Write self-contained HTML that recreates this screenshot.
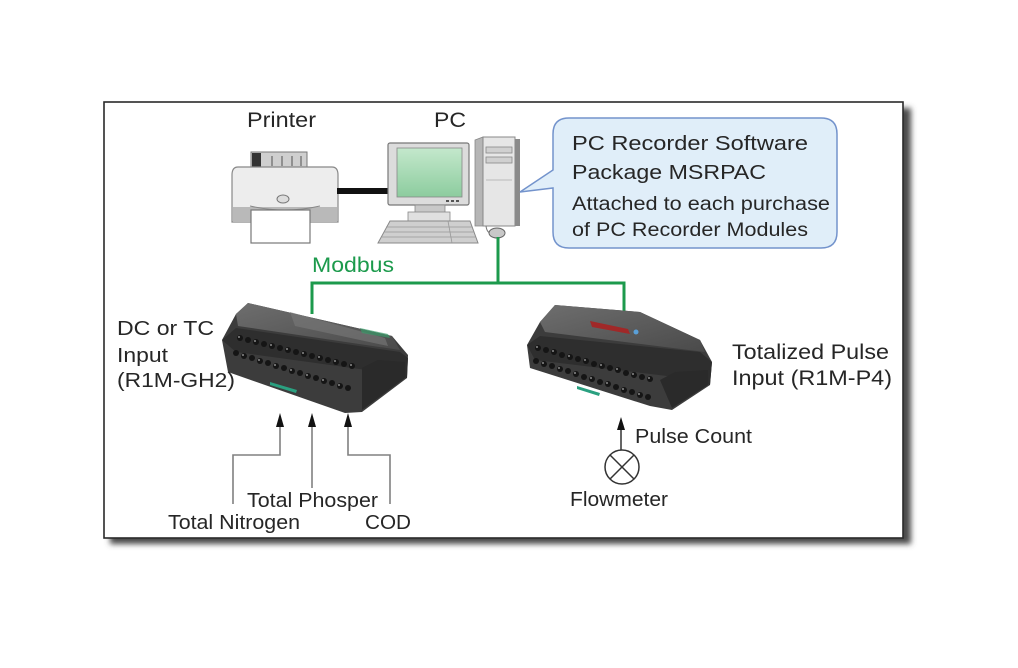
<!DOCTYPE html>
<html><head><meta charset="utf-8"><style>
html,body{margin:0;padding:0;background:#fff;}
svg{display:block;}
text{font-family:"Liberation Sans",Arial,sans-serif;fill:#262626;}
</style></head><body>
<svg width="1018" height="668" viewBox="0 0 1018 668" xmlns="http://www.w3.org/2000/svg">
<defs>
<filter id="sh" x="-10%" y="-10%" width="120%" height="130%"><feGaussianBlur stdDeviation="3"/></filter>
<linearGradient id="scr" x1="0" y1="0" x2="0" y2="1"><stop offset="0" stop-color="#c4e8cc"/><stop offset="1" stop-color="#8ccc9e"/></linearGradient>
<linearGradient id="mtop" x1="0" y1="0" x2="1" y2="1"><stop offset="0" stop-color="#6e6e6e"/><stop offset="1" stop-color="#4a4a4a"/></linearGradient>
</defs>
<rect width="1018" height="668" fill="#fff"/>
<!-- frame shadow -->
<rect x="110" y="108" width="801" height="436" fill="#4a4a4a" filter="url(#sh)"/>
<rect x="104" y="102" width="799" height="436" fill="#fff" stroke="#2a2a2a" stroke-width="1.6"/>

<!-- Printer -->
<rect x="251" y="152" width="56" height="18" fill="#cfcfcf" stroke="#777" stroke-width="1"/>
<rect x="252" y="153" width="9" height="16" fill="#333"/>
<g stroke="#666" stroke-width="1.2"><line x1="272" y1="156" x2="272" y2="166"/><line x1="282" y1="156" x2="282" y2="166"/><line x1="292" y1="156" x2="292" y2="166"/><line x1="301" y1="156" x2="301" y2="166"/></g>
<path d="M238 167 H332 Q338 167 338 175 V222 H232 V175 Q232 167 238 167 Z" fill="#ededed" stroke="#888" stroke-width="1.2"/>
<rect x="233" y="207" width="104" height="15" fill="#b9b9b9"/>
<path d="M250 206 Q285 214 320 206" fill="none" stroke="#888" stroke-width="1"/>
<ellipse cx="283" cy="199" rx="6" ry="4" fill="#ddd" stroke="#777" stroke-width="1"/>
<rect x="251" y="210" width="59" height="33" fill="#fff" stroke="#777" stroke-width="1.2"/>
<!-- printer cable -->
<rect x="337" y="188" width="53" height="6" fill="#111"/>

<!-- Monitor -->
<rect x="388" y="143" width="81" height="62" fill="#dcdcdc" stroke="#777" stroke-width="1.2" rx="2"/>
<rect x="397" y="148" width="65" height="49" fill="url(#scr)" stroke="#888" stroke-width="0.8"/>
<g fill="#555"><rect x="446" y="200" width="3" height="2"/><rect x="451" y="200" width="3" height="2"/><rect x="456" y="200" width="3" height="2"/></g>
<rect x="415" y="205" width="30" height="8" fill="#c8c8c8" stroke="#888" stroke-width="0.8"/>
<rect x="408" y="212" width="42" height="9" fill="#e0e0e0" stroke="#888" stroke-width="0.8"/>
<polygon points="390,221 470,221 478,243 378,243" fill="#cfcfcf" stroke="#888" stroke-width="1"/>
<g stroke="#999" stroke-width="0.8"><line x1="386" y1="227" x2="472" y2="227"/><line x1="384" y1="232" x2="474" y2="232"/><line x1="382" y1="237" x2="476" y2="237"/><line x1="448" y1="221" x2="452" y2="243"/></g>

<!-- Tower -->
<polygon points="475,140 483,137 483,226 475,226" fill="#b5b5b5" stroke="#888" stroke-width="0.8"/>
<rect x="483" y="137" width="32" height="89" fill="#e6e6e6" stroke="#888" stroke-width="1"/>
<rect x="515" y="139" width="5" height="87" fill="#8a8a8a"/>
<rect x="486" y="147" width="26" height="6" fill="#d0d0d0" stroke="#888" stroke-width="0.8"/>
<rect x="486" y="157" width="26" height="6" fill="#d0d0d0" stroke="#888" stroke-width="0.8"/>
<line x1="486" y1="180" x2="512" y2="180" stroke="#aaa" stroke-width="0.8"/>
<!-- mouse -->
<path d="M486 226 Q487 233 491 233" fill="none" stroke="#777" stroke-width="1"/>
<ellipse cx="497" cy="233" rx="8" ry="5" fill="#c8c8c8" stroke="#666" stroke-width="1"/>

<!-- Callout -->
<path d="M569 118 H821 Q837 118 837 134 V232 Q837 248 821 248 H569 Q553 248 553 232 V188 L520 192 L553 170 V134 Q553 118 569 118 Z" fill="#e0eef9" stroke="#7393cc" stroke-width="1.5"/>
<text x="572" y="150" font-size="20.5" textLength="236" lengthAdjust="spacingAndGlyphs">PC Recorder Software</text>
<text x="572" y="179" font-size="20.5" textLength="194" lengthAdjust="spacingAndGlyphs">Package MSRPAC</text>
<text x="572" y="210" font-size="19" textLength="258" lengthAdjust="spacingAndGlyphs">Attached to each purchase</text>
<text x="572" y="236" font-size="19" textLength="236" lengthAdjust="spacingAndGlyphs">of PC Recorder Modules</text>

<!-- Labels top -->
<text x="247" y="127" font-size="21" textLength="69" lengthAdjust="spacingAndGlyphs">Printer</text>
<text x="434" y="127" font-size="21" textLength="32" lengthAdjust="spacingAndGlyphs">PC</text>
<text x="312" y="272" font-size="21" textLength="82" lengthAdjust="spacingAndGlyphs" style="fill:#1c9a4c">Modbus</text>

<!-- Modbus lines -->
<g fill="none" stroke="#1c9a4c" stroke-width="3">
<path d="M498 237 V283"/>
<path d="M312 314 V283 H624 V321"/>
</g>

<!-- Left module -->
<polygon points="248,303 392,336 408,355 407,378 362,412 345,413 228,372 222,340 236,314" fill="#3c3c3c"/>
<polygon points="248,303 392,336 400,350 238,326 236,314" fill="url(#mtop)"/>
<polygon points="290,312 385,338 388,346 295,326" fill="#7a7a7a" opacity="0.6"/>
<polygon points="222,340 236,328 400,352 408,358 407,378 396,374 236,352" fill="#2e2e2e"/>
<g fill="#151515">
<circle cx="240" cy="338" r="3"/><circle cx="248" cy="340" r="3"/><circle cx="256" cy="342" r="3"/><circle cx="264" cy="344" r="3"/><circle cx="272" cy="346" r="3"/><circle cx="280" cy="348" r="3"/><circle cx="288" cy="350" r="3"/><circle cx="296" cy="352" r="3"/><circle cx="304" cy="354" r="3"/><circle cx="312" cy="356" r="3"/><circle cx="320" cy="358" r="3"/><circle cx="328" cy="360" r="3"/><circle cx="336" cy="362" r="3"/><circle cx="344" cy="364" r="3"/><circle cx="352" cy="366" r="3"/>
<circle cx="236" cy="353" r="3"/><circle cx="244" cy="356" r="3"/><circle cx="252" cy="358" r="3"/><circle cx="260" cy="361" r="3"/><circle cx="268" cy="363" r="3"/><circle cx="276" cy="366" r="3"/><circle cx="284" cy="368" r="3"/><circle cx="292" cy="371" r="3"/><circle cx="300" cy="373" r="3"/><circle cx="308" cy="376" r="3"/><circle cx="316" cy="378" r="3"/><circle cx="324" cy="381" r="3"/><circle cx="332" cy="383" r="3"/><circle cx="340" cy="386" r="3"/><circle cx="348" cy="388" r="3"/>
</g>
<g fill="#8a8a8a">
<circle cx="239" cy="337" r="1"/><circle cx="255" cy="341" r="1"/><circle cx="271" cy="345" r="1"/><circle cx="287" cy="349" r="1"/><circle cx="303" cy="353" r="1"/><circle cx="319" cy="357" r="1"/><circle cx="335" cy="361" r="1"/><circle cx="351" cy="365" r="1"/>
<circle cx="243" cy="355" r="1"/><circle cx="259" cy="360" r="1"/><circle cx="275" cy="365" r="1"/><circle cx="291" cy="370" r="1"/><circle cx="307" cy="375" r="1"/><circle cx="323" cy="380" r="1"/><circle cx="339" cy="385" r="1"/>
</g>
<polygon points="362,368 378,360 405,362 405,378 362,410" fill="#2a2a2a"/>
<polygon points="270,382 297,390 296,393 270,385" fill="#2aa080"/>
<polygon points="360,328 388,334 390,338 362,333" fill="#3a9a6a" opacity="0.7"/>

<!-- Right module -->
<polygon points="555,305 640,312 700,340 712,362 710,385 672,410 650,406 530,368 527,345 540,322" fill="#3c3c3c"/>
<polygon points="555,305 640,312 700,340 705,352 545,332 540,322" fill="url(#mtop)"/>
<polygon points="590,321 628,329 630,334 592,327" fill="#a02828"/>
<circle cx="636" cy="332" r="2.5" fill="#5aa0d8"/>
<polygon points="527,345 540,336 700,352 712,362 710,385 700,380 535,360" fill="#2e2e2e"/>
<g fill="#151515">
<circle cx="538" cy="348" r="3"/><circle cx="546" cy="350" r="3"/><circle cx="554" cy="352" r="3"/><circle cx="562" cy="355" r="3"/><circle cx="570" cy="357" r="3"/><circle cx="578" cy="359" r="3"/><circle cx="586" cy="361" r="3"/><circle cx="594" cy="364" r="3"/><circle cx="602" cy="366" r="3"/><circle cx="610" cy="368" r="3"/><circle cx="618" cy="370" r="3"/><circle cx="626" cy="373" r="3"/><circle cx="634" cy="375" r="3"/><circle cx="642" cy="377" r="3"/><circle cx="650" cy="379" r="3"/>
<circle cx="536" cy="361" r="3"/><circle cx="544" cy="364" r="3"/><circle cx="552" cy="366" r="3"/><circle cx="560" cy="369" r="3"/><circle cx="568" cy="371" r="3"/><circle cx="576" cy="374" r="3"/><circle cx="584" cy="377" r="3"/><circle cx="592" cy="379" r="3"/><circle cx="600" cy="382" r="3"/><circle cx="608" cy="384" r="3"/><circle cx="616" cy="387" r="3"/><circle cx="624" cy="390" r="3"/><circle cx="632" cy="392" r="3"/><circle cx="640" cy="395" r="3"/><circle cx="648" cy="397" r="3"/>
</g>
<g fill="#8a8a8a">
<circle cx="537" cy="347" r="1"/><circle cx="553" cy="351" r="1"/><circle cx="569" cy="356" r="1"/><circle cx="585" cy="360" r="1"/><circle cx="601" cy="365" r="1"/><circle cx="617" cy="369" r="1"/><circle cx="633" cy="374" r="1"/><circle cx="649" cy="378" r="1"/>
<circle cx="543" cy="363" r="1"/><circle cx="559" cy="368" r="1"/><circle cx="575" cy="373" r="1"/><circle cx="591" cy="378" r="1"/><circle cx="607" cy="383" r="1"/><circle cx="623" cy="389" r="1"/><circle cx="639" cy="394" r="1"/>
</g>
<polygon points="660,380 675,372 708,370 708,385 672,408" fill="#2a2a2a"/>
<polygon points="577,386 600,393 599,396 577,389" fill="#2aa080"/>

<!-- Left module labels -->
<text x="117" y="335" font-size="20" textLength="97" lengthAdjust="spacingAndGlyphs">DC or TC</text>
<text x="117" y="362" font-size="20" textLength="51" lengthAdjust="spacingAndGlyphs">Input</text>
<text x="117" y="387" font-size="20" textLength="118" lengthAdjust="spacingAndGlyphs">(R1M-GH2)</text>

<!-- Left arrows -->
<g fill="none" stroke="#808080" stroke-width="1.6">
<path d="M280 425 V455 H233 V504"/>
<path d="M312 425 V488"/>
<path d="M348 425 V455 H390 V504"/>
</g>
<g fill="#111">
<polygon points="280,413 276,427 284,427"/>
<polygon points="312,413 308,427 316,427"/>
<polygon points="348,413 344,427 352,427"/>
</g>
<text x="247" y="507" font-size="20" textLength="131" lengthAdjust="spacingAndGlyphs">Total Phosper</text>
<text x="168" y="529" font-size="20" textLength="132" lengthAdjust="spacingAndGlyphs">Total Nitrogen</text>
<text x="365" y="529" font-size="20" textLength="46" lengthAdjust="spacingAndGlyphs">COD</text>

<!-- Right labels -->
<text x="732" y="359" font-size="21" textLength="157" lengthAdjust="spacingAndGlyphs">Totalized Pulse</text>
<text x="732" y="385" font-size="21" textLength="160" lengthAdjust="spacingAndGlyphs">Input (R1M-P4)</text>

<!-- Pulse arrow & flowmeter -->
<line x1="621" y1="428" x2="621" y2="450" stroke="#333" stroke-width="1.5"/>
<polygon points="621,417 617,430 625,430" fill="#111"/>
<circle cx="622" cy="467" r="17" fill="#fff" stroke="#333" stroke-width="1.5"/>
<g stroke="#333" stroke-width="1.5"><line x1="610" y1="455" x2="634" y2="479"/><line x1="634" y1="455" x2="610" y2="479"/></g>
<text x="635" y="443" font-size="20" textLength="117" lengthAdjust="spacingAndGlyphs">Pulse Count</text>
<text x="570" y="506" font-size="20" textLength="98" lengthAdjust="spacingAndGlyphs">Flowmeter</text>
</svg>
</body></html>
